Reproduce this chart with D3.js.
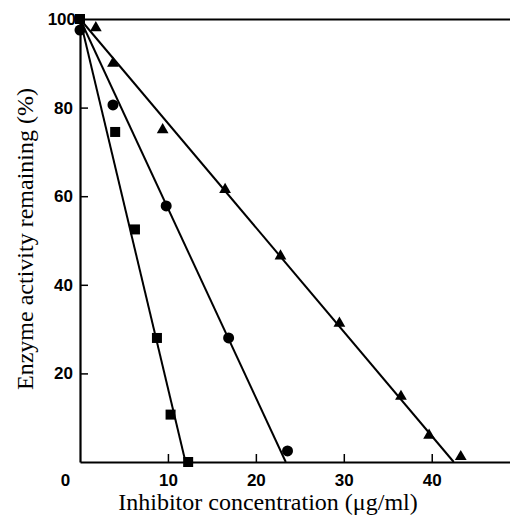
<!DOCTYPE html>
<html>
<head>
<meta charset="utf-8">
<script src="https://cdn.jsdelivr.net/npm/d3@7"></script>
<style>
  body { margin: 0; background: #fff; }
  svg { display: block; }
  .tick text { font-family: "Liberation Sans", Arial, sans-serif; font-weight: bold; font-size: 17px; fill: #000; }
  .title { font-family: "Liberation Serif", "Times New Roman", serif; font-size: 24px; fill: #000; }
</style>
</head>
<body>
<svg id="chart" width="510" height="517"></svg>
<script>
// measured points: [concentration ug/ml, % activity remaining]
const squares = [[0, 100], [4.0, 74.5], [6.25, 52.5], [8.75, 28], [10.3, 10.7], [12.3, 0]];
const circles = [[0, 97.5], [3.75, 80.6], [9.8, 57.8], [16.9, 28], [23.6, 2.5]];
const triangles = [[1.8, 98], [3.75, 90], [9.4, 75], [16.5, 61.5], [22.8, 46.5],
                   [29.5, 31.3], [36.5, 14.8], [39.7, 6], [43.3, 1.2]];

// fitted straight lines, start and end
const squareLine = [[0, 100], [12.0, 0]];
const circleLine = [[0, 100], [23.4, 0]];
const triangleLine = [[0, 100], [42.5, 0]];

const xTicks = [0, 10, 20, 30, 40];
const yTicks = [20, 40, 60, 80, 100];

var chart = d3.select('#chart');
var xs = d3.scaleLinear().domain([0, 48.9]).range([80, 510]);
var ys = d3.scaleLinear().domain([0, 100]).range([462, 19]);

// top frame line at 100 %
chart.append('g').attr('transform', 'translate(0,' + ys(100) + ')')
    .call(d3.axisTop(xs).tickValues([]).tickSizeOuter(0))
    .call(g => g.select('.domain').attr('stroke-width', 2));

var xAxis = chart.append('g').attr('transform', 'translate(0,' + ys(0) + ')')
    .call(d3.axisBottom(xs).tickValues(xTicks).tickSizeInner(-8).tickSizeOuter(0).tickPadding(12));
xAxis.select('.domain').attr('stroke-width', 2.2);
xAxis.selectAll('.tick line').attr('stroke-width', 1.5);
xAxis.selectAll('.tick text').filter(d => d === 0).attr('dx', -15);
xAxis.selectAll('.tick').filter(d => d === 0).select('line').remove();

var yAxis = chart.append('g').attr('transform', 'translate(' + xs(0) + ',0)')
    .call(d3.axisLeft(ys).tickValues(yTicks).tickSizeInner(-8).tickSizeOuter(0).tickPadding(7));
yAxis.select('.domain').attr('stroke-width', 2.2);
yAxis.selectAll('.tick line').attr('stroke-width', 1.5);
yAxis.selectAll('.tick').filter(d => d === 100).select('line').remove();
yAxis.selectAll('.tick text').filter(d => d === 100).attr('dx', 3);

var line = d3.line().x(d => xs(d[0])).y(d => ys(d[1]));
[squareLine, circleLine, triangleLine].forEach(function (l) {
    chart.append('path').attr('d', line(l))
        .attr('fill', 'none').attr('stroke', '#000').attr('stroke-width', 2);
});

chart.selectAll('rect.pt').data(squares).enter().append('rect')
    .attr('class', 'pt')
    .attr('x', d => xs(d[0]) - 5).attr('y', d => ys(d[1]) - 5)
    .attr('width', 10).attr('height', 10).attr('fill', '#000');

chart.selectAll('circle.pt').data(circles).enter().append('circle')
    .attr('class', 'pt')
    .attr('cx', d => xs(d[0])).attr('cy', d => ys(d[1]))
    .attr('r', 5.5).attr('fill', '#000');

var tri = d3.symbol().type(d3.symbolTriangle).size(60);
chart.selectAll('path.tri').data(triangles).enter().append('path')
    .attr('class', 'tri')
    .attr('d', tri)
    .attr('transform', d => 'translate(' + xs(d[0]) + ',' + ys(d[1]) + ')')
    .attr('fill', '#000');

chart.append('text').attr('class', 'title')
    .attr('x', 268).attr('y', 510)
    .attr('text-anchor', 'middle')
    .text('Inhibitor concentration (\u03bcg/ml)');

chart.append('text').attr('class', 'title')
    .attr('transform', 'translate(33,239) rotate(-90)')
    .attr('text-anchor', 'middle')
    .text('Enzyme activity remaining (%)');
</script>
</body>
</html>
